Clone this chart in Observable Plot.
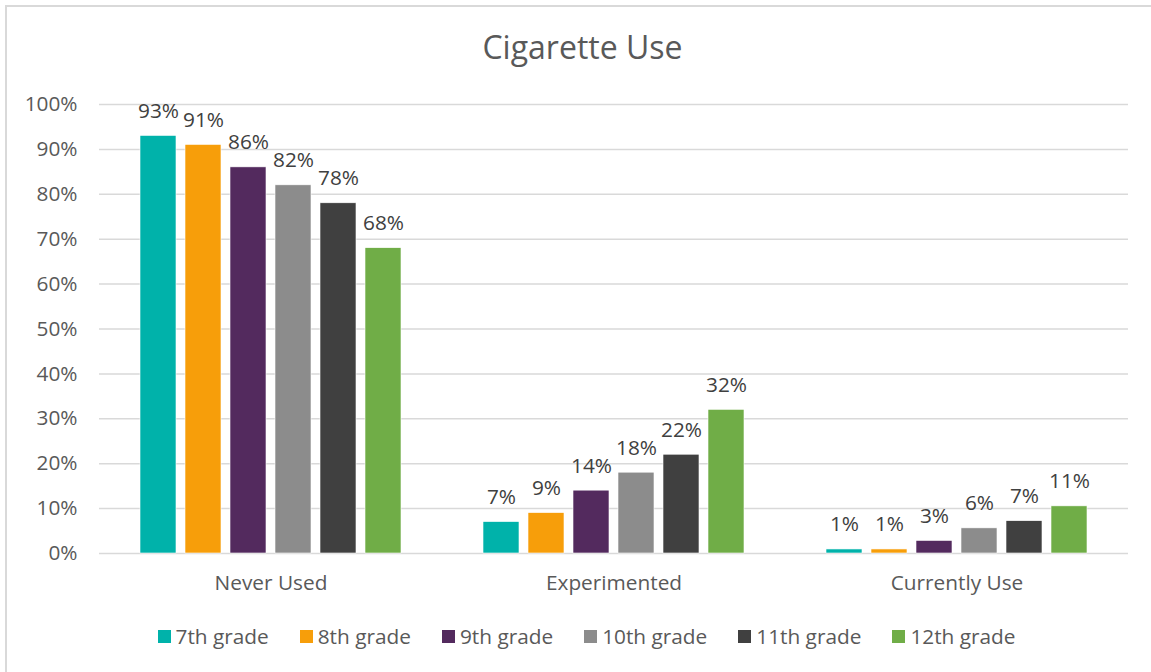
<!DOCTYPE html>
<html>
<head>
<meta charset="utf-8">
<script src="https://cdn.jsdelivr.net/npm/d3@7"></script>
<script src="https://cdn.jsdelivr.net/npm/@observablehq/plot@0.6"></script>
<style>
  html, body { margin: 0; padding: 0; background: #fff; overflow: hidden; }
  body { width: 1151px; height: 672px; position: relative; font-family: "Open Sans", Lato, sans-serif; }
  #frame { position: absolute; left: 5px; top: 5px; width: 1200px; height: 720px; border: 2px solid #d9d9d9; box-sizing: border-box; }
  #chart { position: absolute; left: 0; top: 0; }
  #title { position: absolute; left: 0; width: 1165px; top: 25px; text-align: center; font-size: 32px; color: #595959; }
  #legend { position: absolute; left: 0; width: 1173px; top: 622px; display: flex; justify-content: center; gap: 31px; font-size: 20.8px; color: #595959; }
  .item { display: flex; align-items: center; gap: 5px; }
  .sw { width: 13px; height: 13px; display: inline-block; }
</style>
</head>
<body>
<div id="frame"></div>
<div id="chart"></div>
<div id="title">Cigarette Use</div>
<div id="legend"></div>
<script>
const categories = ["Never Used", "Experimented", "Currently Use"];
const grades = ["7th grade", "8th grade", "9th grade", "10th grade", "11th grade", "12th grade"];
const neverUsed = [93, 91, 86, 82, 78, 68];
const experimented = [7, 9, 14, 18, 22, 32];
const currentlyUse = [0.9, 0.9, 2.8, 5.6, 7.2, 10.5];
const colors = ["#00B2AA", "#F79E0A", "#532A5E", "#8C8C8C", "#404040", "#70AD47"];
const yTicks = [0, 10, 20, 30, 40, 50, 60, 70, 80, 90, 100];

const series = [neverUsed, experimented, currentlyUse];
const data = [];
categories.forEach((c, i) => grades.forEach((g, j) => data.push({category: c, grade: g, value: series[i][j]})));

const chart = Plot.plot({
  width: 1151,
  height: 600,
  marginTop: 104,
  marginBottom: 47,
  marginLeft: 98,
  marginRight: 22,
  style: {fontFamily: "'Open Sans', Lato, sans-serif", background: "transparent"},
  fx: {domain: categories, padding: 0, axis: null},
  x: {domain: grades, axis: null, paddingInner: 0.2, paddingOuter: 0.85},
  y: {domain: [0, 100], axis: null},
  color: {domain: grades, range: colors},
  marks: [
    Plot.gridY(yTicks, {stroke: "#d9d9d9", strokeOpacity: 1, strokeWidth: 1.5}),
    Plot.barY(data, {fx: "category", x: "grade", y: "value", fill: "grade", stroke: "white", strokeWidth: 0.6}),
    Plot.text(data, {fx: "category", x: "grade", y: "value", text: d => Math.round(d.value) + "%",
      dy: -18, lineAnchor: "bottom", fill: "#404040", fontSize: 20.8}),
    Plot.axisY(yTicks, {tickSize: 0, tickPadding: 22, tickFormat: d => d + "%", fontSize: 20.8, color: "#595959", label: null}),
    Plot.axisFx({anchor: "bottom", tickSize: 0, tickPadding: 22, fontSize: 20.8, color: "#595959", label: null})
  ]
});
document.getElementById("chart").appendChild(chart);

const legend = document.getElementById("legend");
grades.forEach((g, i) => {
  const item = document.createElement("div");
  item.className = "item";
  const sw = document.createElement("span");
  sw.className = "sw";
  sw.style.background = colors[i];
  const t = document.createElement("span");
  t.textContent = g;
  item.appendChild(sw);
  item.appendChild(t);
  legend.appendChild(item);
});
</script>
</body>
</html>
